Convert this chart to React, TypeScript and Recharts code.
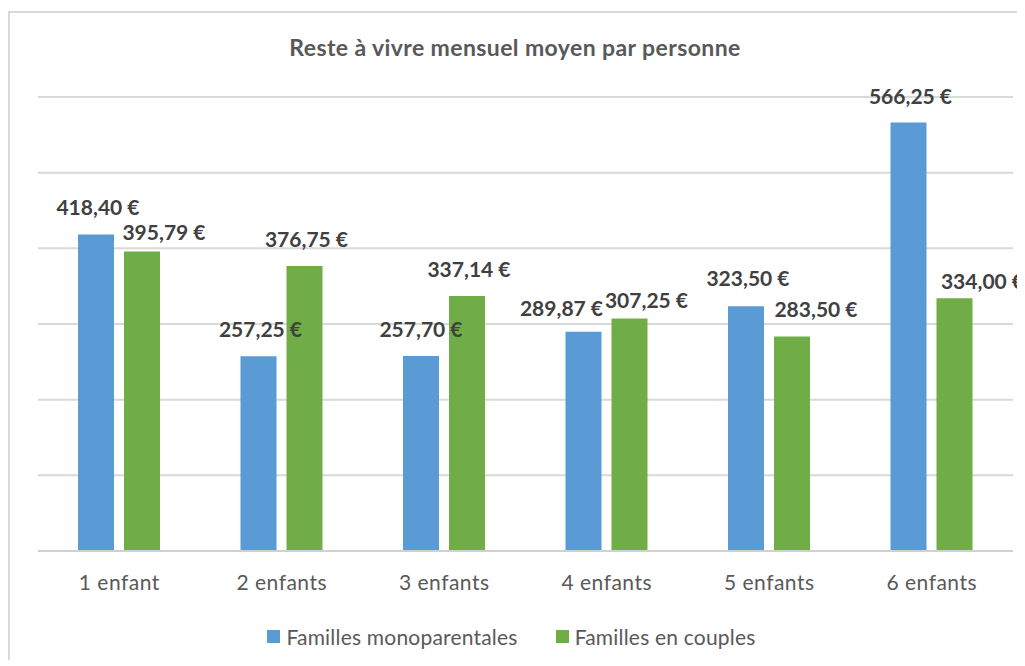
import { BarChart, Bar, XAxis, YAxis, CartesianGrid, Legend, LabelList } from 'recharts';

const categories = ['1 enfant', '2 enfants', '3 enfants', '4 enfants', '5 enfants', '6 enfants'];
const monoparentales = [418.4, 257.25, 257.7, 289.87, 323.5, 566.25];
const couples = [395.79, 376.75, 337.14, 307.25, 283.5, 334.0];
const yTicks = [0, 100, 200, 300, 400, 500, 600];

// label placement tweaks, to mimic how the original spreadsheet moved overlapping labels
const monoNudge = [
  { dx: 2, dy: 0 },
  { dx: 2, dy: 0 },
  { dx: 0, dy: 0 },
  { dx: -22, dy: 3 },
  { dx: 2, dy: -1 },
  { dx: 2, dy: 0 },
];
const couplesNudge = [
  { dx: 22, dy: 7 },
  { dx: 2, dy: 0 },
  { dx: 2, dy: 0 },
  { dx: 17, dy: 8 },
  { dx: 24, dy: 0 },
  { dx: 28, dy: 10 },
];

const BLUE = '#5B9BD5';
const GREEN = '#70AD47';
const FONT = 'Lato, "Open Sans", sans-serif';

const chartData = categories.map((name, i) => ({
  name,
  mono: monoparentales[i],
  couples: couples[i],
}));

const euro = (v: number) => v.toFixed(2).replace('.', ',') + ' €';

const makeLabel = (nudges: { dx: number; dy: number }[]) => (props: any) => {
  const { x, y, width, value, index } = props;
  const n = nudges[index] || { dx: 0, dy: 0 };
  return (
    <text
      x={Number(x) + Number(width) / 2 + n.dx}
      y={Number(y) - 19 + n.dy}
      textAnchor="middle"
      fill="#404040"
      fontSize={21}
      fontWeight="bold"
      fontFamily={FONT}
    >
      {euro(Number(value))}
    </text>
  );
};

const LegendContent = () => (
  <div
    style={{
      display: 'flex',
      justifyContent: 'center',
      alignItems: 'center',
      height: 30,
      paddingRight: 12,
      fontFamily: FONT,
      fontSize: 21,
      letterSpacing: 0.2,
      color: '#595959',
    }}
  >
    <span style={{ display: 'inline-block', width: 13, height: 13, background: BLUE, marginRight: 6 }} />
    <span style={{ marginRight: 38 }}>Familles monoparentales</span>
    <span style={{ display: 'inline-block', width: 13, height: 13, background: GREEN, marginRight: 6 }} />
    <span>Familles en couples</span>
  </div>
);

export default function App() {
  return (
    <div
      style={{
        position: 'relative',
        top: 3,
        width: 1015,
        height: 650,
        borderTop: '2px solid #D9D9D9',
        borderLeft: '2px solid #D9D9D9',
        background: '#fff',
      }}
    >
      <div
        style={{
          position: 'absolute',
          top: 21,
          left: 0,
          width: 1010,
          textAlign: 'center',
          fontFamily: FONT,
          fontWeight: 'bold',
          fontSize: 23,
          letterSpacing: 0.4,
          lineHeight: '26px',
          color: '#595959',
        }}
      >
        Reste à vivre mensuel moyen par personne
      </div>
      <BarChart
        width={1015}
        height={650}
        data={chartData}
        margin={{ top: 84, right: 12, left: 28, bottom: 32 }}
        barCategoryGap={40}
        barGap={10}
      >
        <CartesianGrid vertical={false} stroke="#D9D9D9" strokeWidth={2} />
        <XAxis
          dataKey="name"
          height={50}
          axisLine={{ stroke: '#D0D0D0', strokeWidth: 2 }}
          tickLine={false}
          tickSize={0}
          tickMargin={24}
          tick={{ fill: '#595959', fontSize: 21, fontFamily: FONT, letterSpacing: 0.5 }}
        />
        <YAxis hide domain={[0, 600]} ticks={yTicks} />
        <Legend
          verticalAlign="bottom"
          content={<LegendContent />}
          wrapperStyle={{ top: 608, left: 0, width: 1015, height: 30 }}
        />
        <Bar dataKey="mono" name="Familles monoparentales" fill={BLUE} isAnimationActive={false}>
          <LabelList dataKey="mono" content={makeLabel(monoNudge)} />
        </Bar>
        <Bar dataKey="couples" name="Familles en couples" fill={GREEN} isAnimationActive={false}>
          <LabelList dataKey="couples" content={makeLabel(couplesNudge)} />
        </Bar>
      </BarChart>
    </div>
  );
}
